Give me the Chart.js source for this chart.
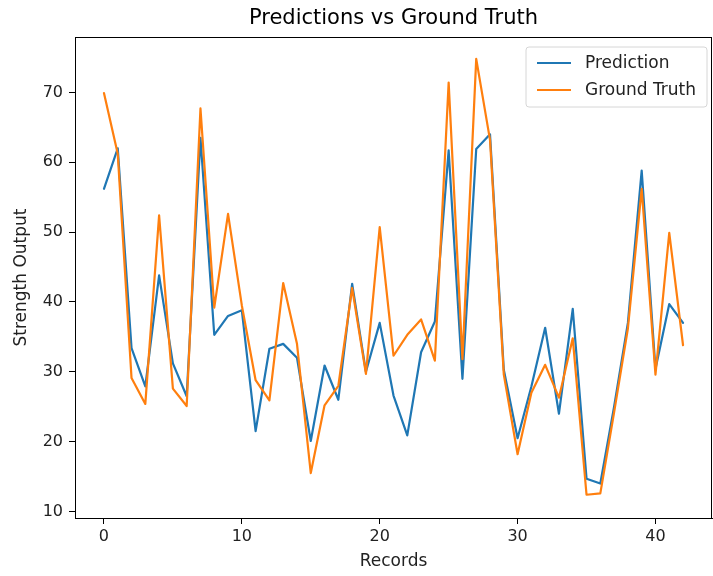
<!DOCTYPE html>
<html>
<head>
<meta charset="utf-8">
<script src="https://cdn.jsdelivr.net/npm/chart.js@4/dist/chart.umd.min.js"></script>
<style>
  body { margin: 0; background: #fff; }
  #wrap { width: 713px; height: 576px; }
</style>
</head>
<body>
<div id="wrap"><canvas id="chart" width="713" height="576"></canvas></div>
<script>
// DATA
var records = []
for (var i = 0; i < 43; i++) records.push(i)
var prediction = [56.2, 62.0, 33.4, 27.9, 43.8, 31.2, 26.5, 63.5, 35.3, 38.0,
  38.8, 21.5, 33.3, 34.0, 32.0, 20.1, 30.9, 26.0, 42.6, 30.0,
  37.0, 26.6, 20.9, 32.8, 37.2, 61.7, 29.0, 61.9, 64.0, 30.3,
  20.5, 27.9, 36.3, 24.0, 39.0, 14.7, 14.0, 25.0, 37.0, 58.8,
  30.4, 39.7, 37.0]
var groundTruth = [69.9, 61.2, 29.1, 25.4, 52.4, 27.6, 25.1, 67.7, 39.2, 52.6,
  39.5, 28.8, 25.9, 42.7, 34.0, 15.5, 25.2, 28.0, 42.0, 29.7,
  50.7, 32.3, 35.3, 37.5, 31.6, 71.4, 31.8, 74.8, 63.2, 29.6,
  18.2, 27.0, 31.0, 26.3, 34.8, 12.4, 12.6, 24.2, 36.2, 56.2,
  29.6, 49.9, 33.8]
var xTicks = [0, 10, 20, 30, 40]
var yTicks = [10, 20, 30, 40, 50, 60, 70]

// COLORS
var blue = '#1f77b4'
var orange = '#ff7f0e'
var font = "'DejaVu Sans', sans-serif"

function toPoints (ys) {
  return records.map(function (x, i) { return { x: x, y: ys[i] } })
}

// frame, title and matplotlib-style legend
var decor = {
  id: 'decor',
  afterDraw: function (chart) {
    var ctx = chart.ctx
    var a = chart.chartArea
    ctx.save()
    ctx.strokeStyle = '#000'
    ctx.lineWidth = 1
    ctx.strokeRect(Math.round(a.left) + 0.5, Math.round(a.top) + 0.5,
      Math.round(a.right - a.left) - 1, Math.round(a.bottom - a.top))

    ctx.fillStyle = '#000'
    ctx.font = '21px ' + font
    ctx.textAlign = 'center'
    ctx.textBaseline = 'middle'
    ctx.fillText('Predictions vs Ground Truth', (a.left + a.right) / 2, 19)

    // legend box
    var bx = 526, by = 47, bw = 181, bh = 60
    ctx.beginPath()
    ctx.moveTo(bx + 3, by)
    ctx.arcTo(bx + bw, by, bx + bw, by + bh, 3)
    ctx.arcTo(bx + bw, by + bh, bx, by + bh, 3)
    ctx.arcTo(bx, by + bh, bx, by, 3)
    ctx.arcTo(bx, by, bx + bw, by, 3)
    ctx.closePath()
    ctx.fillStyle = 'rgba(255,255,255,0.8)'
    ctx.fill()
    ctx.strokeStyle = '#d6d6d6'
    ctx.stroke()
    ctx.font = '17px ' + font
    ctx.textAlign = 'left'
    chart.data.datasets.forEach(function (ds, i) {
      var ly = by + 16 + i * 27
      ctx.strokeStyle = ds.borderColor
      ctx.lineWidth = 2.2
      ctx.beginPath()
      ctx.moveTo(bx + 11, ly)
      ctx.lineTo(bx + 45, ly)
      ctx.stroke()
      ctx.fillStyle = '#222'
      ctx.fillText(ds.label, bx + 59, ly + 1)
    })
    ctx.restore()
  }
}

new Chart(document.getElementById('chart'), {
  type: 'line',
  data: {
    datasets: [
      { label: 'Prediction', data: toPoints(prediction), borderColor: blue,
        backgroundColor: blue, borderWidth: 2.2, borderJoinStyle: 'round', borderCapStyle: 'round',
        pointRadius: 0, order: 1 },
      { label: 'Ground Truth', data: toPoints(groundTruth), borderColor: orange,
        backgroundColor: orange, borderWidth: 2.2, borderJoinStyle: 'round', borderCapStyle: 'round',
        pointRadius: 0, order: 0 }
    ]
  },
  options: {
    responsive: false,
    animation: false,
    layout: { padding: { top: 37, right: 1, left: 0, bottom: 0 } },
    plugins: { legend: { display: false }, title: { display: false }, tooltip: { enabled: false } },
    scales: {
      x: {
        type: 'linear', min: -2.1, max: 44.1,
        afterBuildTicks: function (s) { s.ticks = xTicks.map(function (v) { return { value: v } }) },
        afterFit: function (s) { s.height = 58 },
        grid: { drawOnChartArea: false, drawTicks: true, tickLength: 6, color: '#000' },
        border: { display: true, color: '#000' },
        ticks: { color: '#222', font: { family: font, size: 16 }, padding: 3, maxRotation: 0 },
        title: { display: true, text: 'Records', color: '#222', font: { family: font, size: 17 }, padding: { top: -3 } }
      },
      y: {
        type: 'linear', min: 9.07, max: 77.93,
        afterBuildTicks: function (s) { s.ticks = yTicks.map(function (v) { return { value: v } }) },
        afterFit: function (s) { s.width = 75 },
        grid: { drawOnChartArea: false, drawTicks: true, tickLength: 6, color: '#000' },
        border: { display: true, color: '#000' },
        ticks: { color: '#222', font: { family: font, size: 16 }, padding: 6 },
        title: { display: true, text: 'Strength Output', color: '#222', font: { family: font, size: 17 }, padding: { top: 11 } }
      }
    }
  },
  plugins: [decor]
})
</script>
</body>
</html>
